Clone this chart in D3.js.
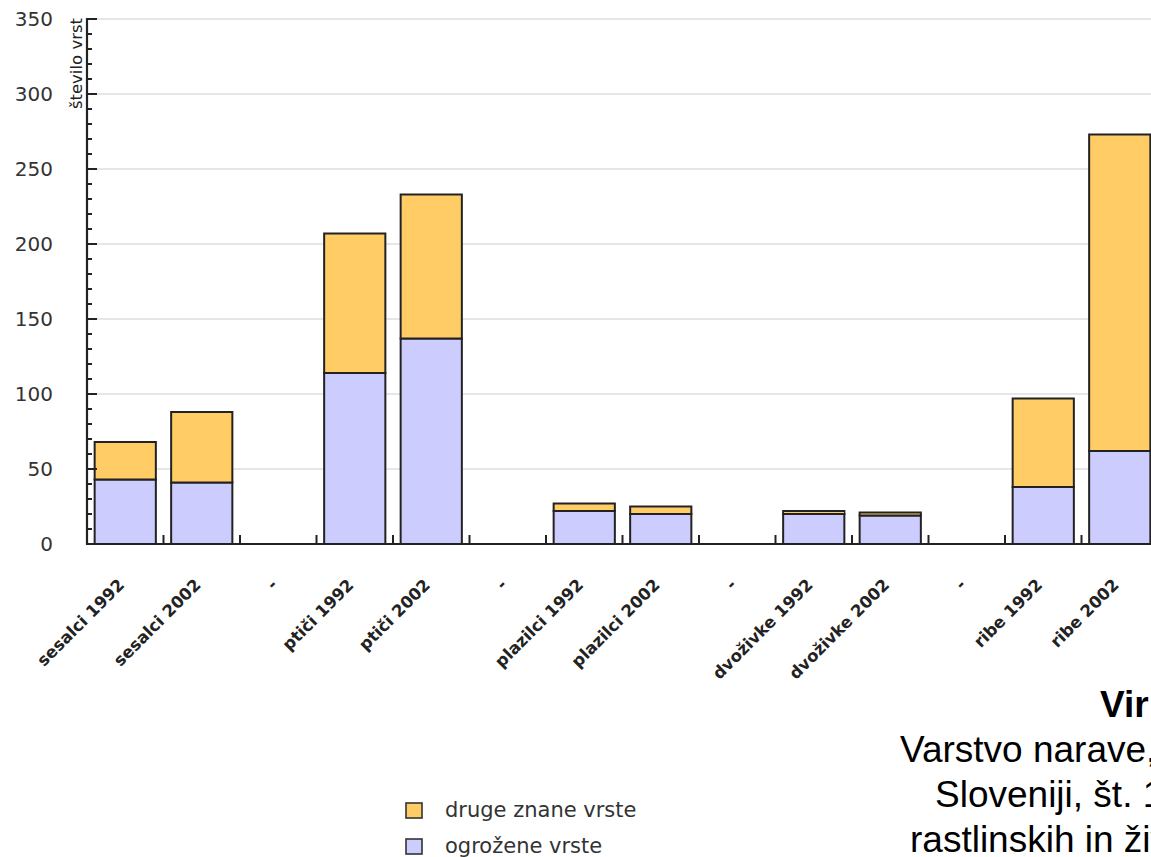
<!DOCTYPE html>
<html><head><meta charset="utf-8">
<script src="https://cdn.jsdelivr.net/npm/d3@7"></script>
<style>html,body{margin:0;padding:0;background:#fff;overflow:hidden}</style>
</head><body>
<svg id="chart" width="1151" height="857"></svg>
<script>
const categories = ['sesalci 1992','sesalci 2002','-','ptiči 1992','ptiči 2002','-','plazilci 1992','plazilci 2002','-','dvoživke 1992','dvoživke 2002','-','ribe 1992','ribe 2002'];
const ogrozene = [43, 41, 0, 114, 137, 0, 22, 20, 0, 20, 19, 0, 38, 62];
const druge    = [25, 47, 0, 93, 96, 0, 5, 5, 0, 2, 2, 0, 59, 211];
const seriesNames = ['ogrožene vrste','druge znane vrste'];
const seriesColors = ['#ccccff','#ffcc66'];
const yTicks = [0,50,100,150,200,250,300,350];
const yTitle = 'število vrst';
const sourceLines = ['Vir:','Varstvo narave,','Sloveniji, št. 1','rastlinskih in živalskih'];

const svg = d3.select('#chart');
const left = 87, zeroY = 544;
const x = d3.scaleBand().domain(d3.range(categories.length)).range([left, left + 14*76.5]).paddingInner(0.2).paddingOuter(0.1);
const y = d3.scaleLinear().domain([0,350]).range([zeroY, 19]);

// gridlines
svg.append('g').selectAll('line').data(yTicks.filter(d=>d>0)).join('line')
  .attr('x1', left+10).attr('x2', 1151).attr('y1', d=>y(d)).attr('y2', d=>y(d))
  .attr('stroke','#dedede').attr('stroke-width',1.5);

// stacked bars
const rows = categories.map((c,i)=>({i, a: ogrozene[i], b: druge[i]}));
const stack = d3.stack().keys(['a','b'])(rows);
const gb = svg.append('g');
stack.forEach((layer, li)=>{
  gb.append('g').selectAll('rect').data(layer.filter(d=>d[1]-d[0]>0)).join('rect')
    .attr('x', d=>x(d.data.i)).attr('width', x.bandwidth())
    .attr('y', d=>y(d[1])).attr('height', d=>y(d[0])-y(d[1]))
    .attr('fill', seriesColors[li]).attr('stroke','#222').attr('stroke-width',2);
});

// y axis
const yAxis = d3.axisLeft(y).tickValues(yTicks).tickSize(0).tickPadding(0);
const ga = svg.append('g').attr('transform',`translate(${left},0)`).call(yAxis);
ga.select('.domain').remove();
ga.selectAll('text').attr('x', 53-left).attr('font-family','DejaVu Sans').attr('font-size',20).attr('fill','#333');
svg.append('g').selectAll('line').data(d3.range(0,351,10)).join('line')
  .attr('x1',left).attr('x2', d=> d%50===0 ? left+10 : left+5)
  .attr('y1', d=>y(d)).attr('y2', d=>y(d)).attr('stroke','#222').attr('stroke-width',2);
svg.append('line').attr('x1',left).attr('x2',left).attr('y1',y(350)-1).attr('y2',zeroY+1)
  .attr('stroke','#222').attr('stroke-width',2.2);

// x axis
svg.append('line').attr('x1',left).attr('x2',1151).attr('y1',zeroY).attr('y2',zeroY)
  .attr('stroke','#222').attr('stroke-width',2.2);
svg.append('g').selectAll('line').data(d3.range(1,categories.length)).join('line')
  .attr('x1', d=>x(d)-x.step()*0.1).attr('x2', d=>x(d)-x.step()*0.1)
  .attr('y1', zeroY).attr('y2', zeroY-9).attr('stroke','#222').attr('stroke-width',2);
svg.append('g').selectAll('text').data(categories).join('text')
  .attr('transform',(d,i)=>`translate(${x(i)+x.bandwidth()/2},586) rotate(-45)`)
  .attr('text-anchor','end').attr('font-family','DejaVu Sans').attr('font-weight','bold')
  .attr('font-size',16.5).attr('fill','#222').text(d=>d);

// y title
svg.append('text').attr('transform','translate(82,18) rotate(-90)').attr('text-anchor','end')
  .attr('font-family','DejaVu Sans').attr('font-size',16.5).attr('fill','#222').text(yTitle);

// legend
const leg = svg.append('g');
[1,0].forEach((si,k)=>{
  leg.append('rect').attr('x',406).attr('y',803+k*36).attr('width',16).attr('height',15)
    .attr('fill',seriesColors[si]).attr('stroke','#333').attr('stroke-width',1.6);
  leg.append('text').attr('x',445).attr('y',817+k*36).attr('font-family','DejaVu Sans')
    .attr('font-size',21).attr('fill','#333').text(seriesNames[si]);
});

// source text
const sx = [1100, 900, 935, 910];
sourceLines.forEach((t,i)=>{
  svg.append('text').attr('x',sx[i]).attr('y',717+i*45).attr('font-family','Liberation Sans, Arial')
    .attr('font-size',37).attr('font-weight', i===0?'bold':'normal').attr('fill','#000').text(t);
});
</script>
</body></html>
